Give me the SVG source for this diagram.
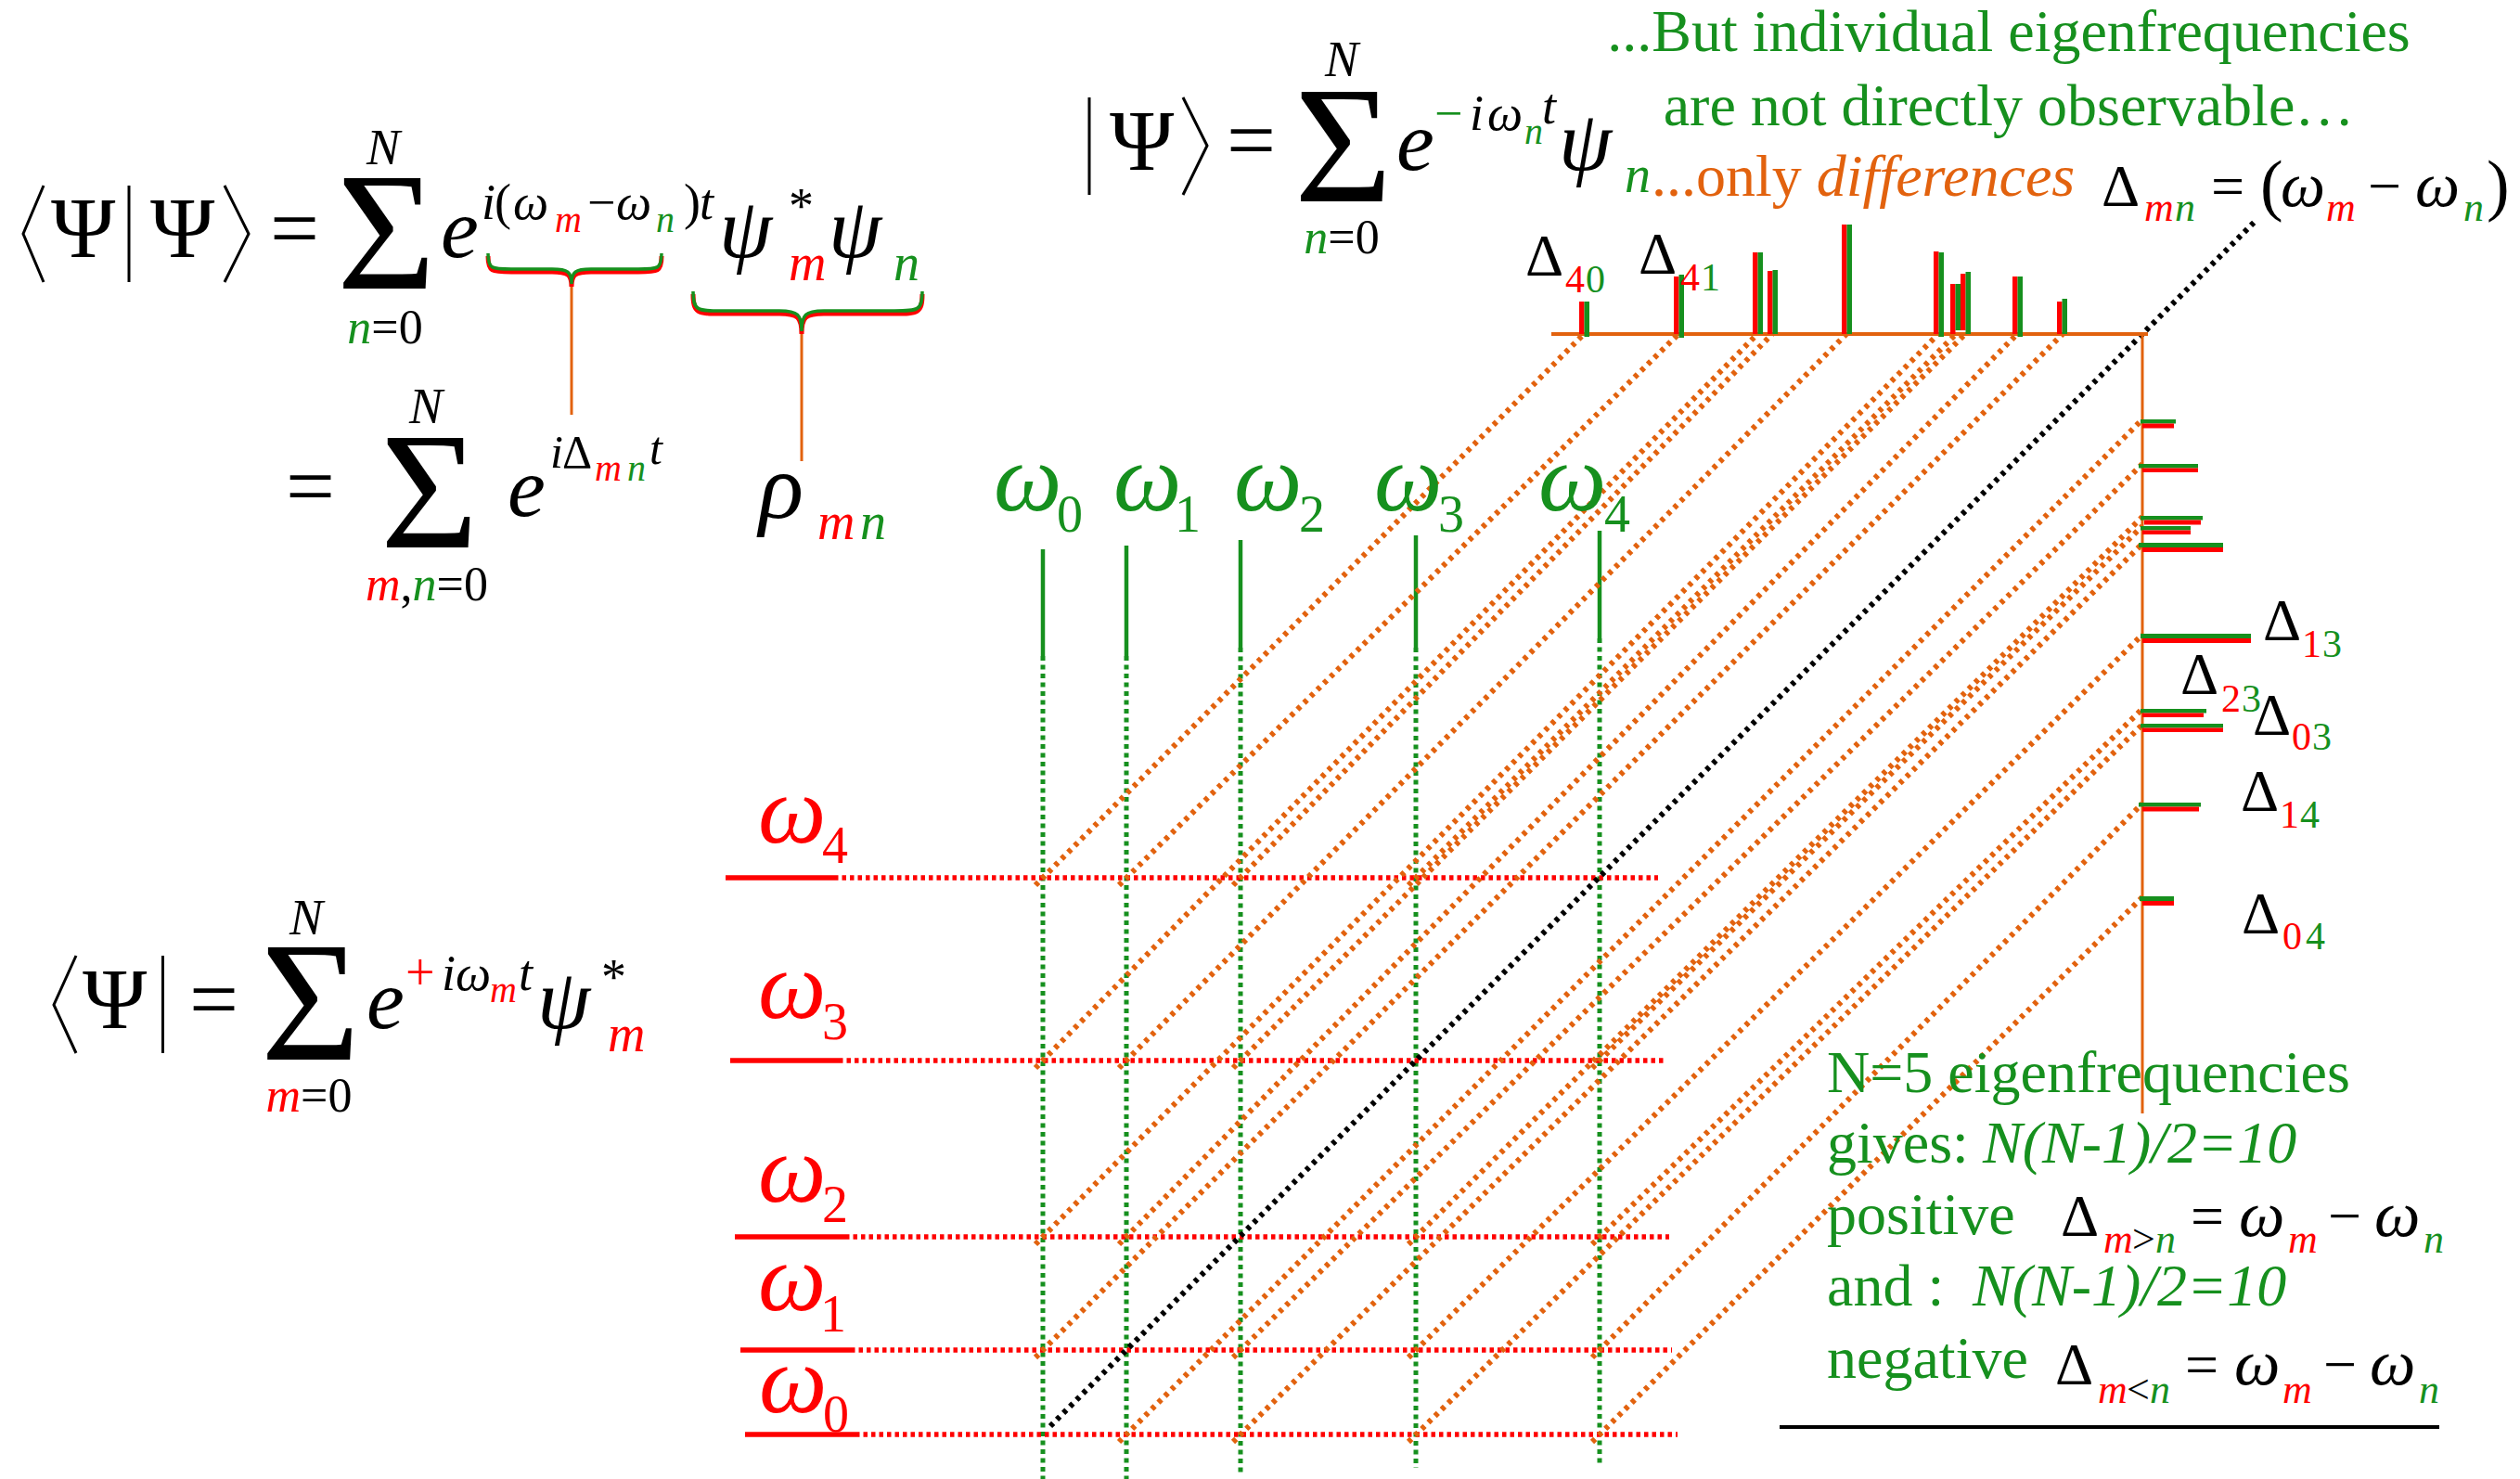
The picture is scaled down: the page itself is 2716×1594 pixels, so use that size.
<svg xmlns="http://www.w3.org/2000/svg" width="2716" height="1594" viewBox="0 0 2716 1594">
<style>
text{font-family:"Liberation Serif","Times New Roman",serif;fill:#000}
.i{font-style:italic}
.g{fill:#16901e}
.r{fill:#ff0000}
.o{fill:#e2620e}
.k{fill:#000}
.delim{fill:none;stroke:#000;stroke-width:3}
.lead{stroke:#e2620e;stroke-width:3;fill:none}
.od{stroke:#e2620e;stroke-width:6;stroke-dasharray:4.5 5.5;fill:none}
.bd{stroke:#000;stroke-width:6;stroke-dasharray:4.5 5.5;fill:none}
.rs{stroke:#ff0000;stroke-width:5.5}
.rd{stroke:#ff0000;stroke-width:5.5;stroke-dasharray:4.5 4}
.gs{stroke:#16901e;stroke-width:4.5}
.gd{stroke:#16901e;stroke-width:5;stroke-dasharray:5 4.5}
.axis{stroke:#e2620e;fill:none}
.braceR{fill:none;stroke:#ff0000;stroke-width:5}
.braceG{fill:none;stroke:#16901e;stroke-width:3.5}
.bar-r{fill:#ff0000}
.bar-g{fill:#16901e}
</style>

<!-- Connectors: grid lines, difference lines, axes -->
<g id="connectors">
  <g id="green-verticals">
    <line class="gs" x1="1124" y1="592" x2="1124" y2="707"/><line class="gd" x1="1124" y1="707" x2="1124" y2="1594"/>
    <line class="gs" x1="1214" y1="588" x2="1214" y2="707"/><line class="gd" x1="1214" y1="707" x2="1214" y2="1594"/>
    <line class="gs" x1="1337" y1="582" x2="1337" y2="698"/><line class="gd" x1="1337" y1="698" x2="1337" y2="1588"/>
    <line class="gs" x1="1526" y1="577" x2="1526" y2="698"/><line class="gd" x1="1526" y1="698" x2="1526" y2="1582"/>
    <line class="gs" x1="1724" y1="572" x2="1724" y2="688"/><line class="gd" x1="1724" y1="688" x2="1724" y2="1577"/>
  </g>
  <g id="red-horizontals">
    <line class="rs" x1="782" y1="946" x2="899" y2="946"/><line class="rd" x1="899" y1="946" x2="1787" y2="946"/>
    <line class="rs" x1="787" y1="1143" x2="904" y2="1143"/><line class="rd" x1="904" y1="1143" x2="1793" y2="1143"/>
    <line class="rs" x1="792" y1="1333" x2="911" y2="1333"/><line class="rd" x1="911" y1="1333" x2="1799" y2="1333"/>
    <line class="rs" x1="798" y1="1455" x2="917" y2="1455"/><line class="rd" x1="917" y1="1455" x2="1802" y2="1455"/>
    <line class="rs" x1="803" y1="1546" x2="922" y2="1546"/><line class="rd" x1="922" y1="1546" x2="1808" y2="1546"/>
  </g>
  <g id="difference-lines">
    <line class="od" x1="1116" y1="954" x2="1707" y2="360"/>
    <line class="od" x1="1206" y1="954" x2="1809" y2="360"/>
    <line class="od" x1="1116" y1="1151" x2="1894" y2="360"/>
    <line class="od" x1="1329" y1="954" x2="1910" y2="360"/>
    <line class="od" x1="1206" y1="1151" x2="1990" y2="360"/>
    <line class="od" x1="1116" y1="1341" x2="2089" y2="360"/>
    <line class="od" x1="1518" y1="954" x2="2108" y2="360"/>
    <line class="od" x1="1329" y1="1151" x2="2118" y2="360"/>
    <line class="od" x1="1206" y1="1341" x2="2174" y2="360"/>
    <line class="od" x1="1116" y1="1463" x2="2223" y2="360"/>
    <line class="od" x1="1206" y1="1554" x2="2309" y2="452"/>
    <line class="od" x1="1329" y1="1463" x2="2309" y2="500"/>
    <line class="od" x1="1518" y1="1341" x2="2309" y2="557"/>
    <line class="od" x1="1716" y1="1151" x2="2309" y2="567"/>
    <line class="od" x1="1329" y1="1554" x2="2309" y2="586"/>
    <line class="od" x1="1518" y1="1463" x2="2309" y2="684"/>
    <line class="od" x1="1716" y1="1341" x2="2309" y2="764"/>
    <line class="od" x1="1518" y1="1554" x2="2309" y2="781"/>
    <line class="od" x1="1716" y1="1463" x2="2309" y2="866"/>
    <line class="od" x1="1716" y1="1554" x2="2309" y2="967"/>
  </g>
  <line id="diagonal" class="bd" x1="1132" y1="1537" x2="2432" y2="237"/>
  <line class="axis" stroke-width="4" x1="1672" y1="360" x2="2315" y2="360"/>
  <line class="axis" stroke-width="3" x1="2309" y1="360" x2="2309" y2="1200"/>
  <line class="lead" x1="616" y1="307" x2="616" y2="447"/>
  <line class="lead" x1="864" y1="358" x2="864" y2="497"/>
</g>

<g id="top-spectrum">
  <rect class="bar-r" x="1702" y="325" width="5.5" height="35"/><rect class="bar-g" x="1707.5" y="325" width="5.5" height="38"/>
  <rect class="bar-r" x="1804" y="298" width="5.5" height="62"/><rect class="bar-g" x="1809.5" y="296" width="5.5" height="68"/>
  <rect class="bar-r" x="1889" y="272" width="5.5" height="88"/><rect class="bar-g" x="1894.5" y="272" width="5.5" height="88"/>
  <rect class="bar-r" x="1905" y="292" width="5.5" height="68"/><rect class="bar-g" x="1910.5" y="291" width="5.5" height="69"/>
  <rect class="bar-r" x="1985" y="242" width="5.5" height="118"/><rect class="bar-g" x="1990.5" y="242" width="5.5" height="118"/>
  <rect class="bar-r" x="2084" y="271" width="5.5" height="89"/><rect class="bar-g" x="2089.5" y="272" width="5.5" height="91"/>
  <rect class="bar-r" x="2102" y="306" width="5.5" height="54"/><rect class="bar-g" x="2107.5" y="306" width="5.5" height="50"/>
  <rect class="bar-r" x="2113" y="295" width="5.5" height="61"/><rect class="bar-g" x="2118.5" y="293" width="5.5" height="67"/>
  <rect class="bar-r" x="2169" y="298" width="5.5" height="62"/><rect class="bar-g" x="2174.5" y="298" width="5.5" height="65"/>
  <rect class="bar-r" x="2217" y="325" width="5.5" height="35"/><rect class="bar-g" x="2222.5" y="322" width="5.5" height="38"/>
</g>

<g id="right-spectrum">
  <rect class="bar-g" x="2307" y="452" width="38" height="4.5"/><rect class="bar-r" x="2309" y="456.5" width="34" height="5"/>
  <rect class="bar-g" x="2305" y="500" width="64" height="4.5"/><rect class="bar-r" x="2309" y="504.5" width="60" height="4.5"/>
  <rect class="bar-g" x="2307" y="556" width="67" height="4.5"/><rect class="bar-r" x="2311" y="560.5" width="61" height="5"/>
  <rect class="bar-g" x="2307" y="567" width="54" height="4.5"/><rect class="bar-r" x="2309" y="571.5" width="52" height="4.5"/>
  <rect class="bar-g" x="2305" y="585" width="91" height="5"/><rect class="bar-r" x="2309" y="590" width="87" height="5"/>
  <rect class="bar-g" x="2307" y="683" width="119" height="5"/><rect class="bar-r" x="2309" y="688" width="117" height="5"/>
  <rect class="bar-g" x="2307" y="764" width="71" height="4.5"/><rect class="bar-r" x="2309" y="768.5" width="66" height="4.5"/>
  <rect class="bar-g" x="2307" y="780" width="89" height="4.5"/><rect class="bar-r" x="2309" y="784.5" width="87" height="4.5"/>
  <rect class="bar-g" x="2305" y="865" width="67" height="4.5"/><rect class="bar-r" x="2309" y="869.5" width="61" height="5"/>
  <rect class="bar-g" x="2306" y="966" width="37" height="5"/><rect class="bar-r" x="2309" y="971" width="34" height="5"/>
</g>

<g id="eq-braket">
  <polyline class="delim" points="47,200 25,252 47,304"/>
  <text x="55" y="277" font-size="94">Ψ</text>
  <line x1="139" y1="200" x2="139" y2="304" stroke="#000" stroke-width="3"/>
  <text x="162" y="277" font-size="94">Ψ</text>
  <polyline class="delim" points="242,200 268,252 242,304"/>
  <text x="291" y="277" font-size="94">=</text>
  <text x="363" y="311" font-size="183">Σ</text>
  <text x="395" y="177" font-size="54" class="i">N</text>
  <text x="415" y="370" font-size="52" text-anchor="middle"><tspan class="i g">n</tspan>=0</text>
  <text x="475" y="277" font-size="92" class="i">e</text>
  <text y="236" font-size="54"><tspan x="519" class="i">i</tspan><tspan x="533">(</tspan><tspan x="553" class="i">ω</tspan><tspan x="598" y="250" font-size="40" class="i r">m</tspan><tspan x="633" y="236">−</tspan><tspan x="664" class="i">ω</tspan><tspan x="707" y="250" font-size="40" class="i g">n</tspan><tspan x="737" y="236">)</tspan><tspan x="754" class="i">t</tspan></text>
  <path class="braceR" d="M526,276 C526,293 530,293 551,293 L595,293 C612,293 616,296 616,309 C616,296 620,293 637,293 L688,293 C709,293 713,293 713,276"/>
  <path class="braceG" d="M526,273 C526,290 530,290 551,290 L595,290 C612,290 616,293 616,306 C616,293 620,290 637,290 L688,290 C709,290 713,290 713,273"/>
  <text x="775" y="277" font-size="92" class="i">ψ</text>
  <text x="850" y="240" font-size="54">*</text>
  <text x="850" y="302" font-size="56" class="i r">m</text>
  <text x="893" y="277" font-size="92" class="i">ψ</text>
  <text x="963" y="302" font-size="56" class="i g">n</text>
  <path class="braceR" d="M747,317 C747,338 752,338 777,338 L840,338 C860,338 864,342 864,360 C864,342 868,338 888,338 L964,338 C989,338 994,338 994,317"/>
  <path class="braceG" d="M747,314 C747,335 752,335 777,335 L840,335 C860,335 864,339 864,357 C864,339 868,335 888,335 L964,335 C989,335 994,335 994,314"/>
</g>

<g id="eq-rho">
  <text x="308" y="555" font-size="94">=</text>
  <text x="410" y="590" font-size="181">Σ</text>
  <text x="441" y="456" font-size="54" class="i">N</text>
  <text x="460" y="647" font-size="52" text-anchor="middle"><tspan class="i r">m</tspan>,<tspan class="i g">n</tspan>=0</text>
  <text x="547" y="556" font-size="92" class="i">e</text>
  <text y="504" font-size="50"><tspan x="593" class="i">i</tspan><tspan x="606">Δ</tspan><tspan x="641" y="518" font-size="40" class="i r">m</tspan><tspan x="676" y="518" font-size="40" class="i g">n</tspan><tspan x="700" y="500" class="i">t</tspan></text>
  <text x="818" y="558" font-size="100" class="i">ρ</text>
  <text y="581" font-size="56" class="i"><tspan x="881" class="r">m</tspan><tspan x="927" class="g">n</tspan></text>
</g>

<g id="eq-ket">
  <line x1="1174" y1="105" x2="1174" y2="210" stroke="#000" stroke-width="3"/>
  <text x="1196" y="183" font-size="94">Ψ</text>
  <polyline class="delim" points="1275,105 1301,157 1275,210"/>
  <text x="1322" y="182" font-size="94">=</text>
  <text x="1395" y="217" font-size="181">Σ</text>
  <text x="1428" y="82" font-size="54" class="i">N</text>
  <text x="1446" y="273" font-size="52" text-anchor="middle"><tspan class="i g">n</tspan>=0</text>
  <text x="1505" y="183" font-size="92" class="i">e</text>
  <text y="140" font-size="54"><tspan x="1546" class="g">−</tspan><tspan x="1584" class="i">i</tspan><tspan x="1603" class="i">ω</tspan><tspan x="1643" y="155" font-size="40" class="i g">n</tspan><tspan x="1662" y="133" class="i">t</tspan></text>
  <text x="1680" y="183" font-size="92" class="i">ψ</text>
  <text x="1751" y="207" font-size="56" class="i g">n</text>
</g>

<g id="headline">
  <text x="2165" y="55" font-size="64" class="g" text-anchor="middle">...But individual eigenfrequencies</text>
  <text x="2165" y="135" font-size="64" class="g" text-anchor="middle">are not directly observable…</text>
  <text x="1780" y="211" font-size="64" class="o">...only <tspan class="i">differences</tspan></text>
</g>

<g id="eq-delta-def">
  <text x="2265" y="222" font-size="64">Δ</text>
  <text y="238" font-size="44" class="i"><tspan x="2311" class="r">m</tspan><tspan x="2344" class="g">n</tspan></text>
  <text x="2383" y="222" font-size="64">=</text>
  <text x="2436" y="224" font-size="74">(</text>
  <text x="2458" y="222" font-size="68" class="i">ω</text>
  <text x="2507" y="238" font-size="44" class="i r">m</text>
  <text x="2552" y="222" font-size="64">−</text>
  <text x="2603" y="222" font-size="68" class="i">ω</text>
  <text x="2655" y="238" font-size="44" class="i g">n</text>
  <text x="2680" y="224" font-size="74">)</text>
</g>

<g id="delta-labels">
  <g id="lbl-d40"><text x="1644" y="297" font-size="64">Δ</text><text y="315" font-size="42"><tspan x="1687" class="r">4</tspan><tspan x="1709" class="g">0</tspan></text></g>
  <g id="lbl-d41"><text x="1766" y="295" font-size="64">Δ</text><text y="313" font-size="42"><tspan x="1811" class="r">4</tspan><tspan x="1833" class="g">1</tspan></text></g>
  <g id="lbl-d13"><text x="2439" y="690" font-size="64">Δ</text><text y="708" font-size="42"><tspan x="2481" class="r">1</tspan><tspan x="2503" class="g">3</tspan></text></g>
  <g id="lbl-d23"><text x="2350" y="748" font-size="64">Δ</text><text y="767" font-size="42"><tspan x="2394" class="r">2</tspan><tspan x="2416" class="g">3</tspan></text></g>
  <g id="lbl-d03"><text x="2428" y="792" font-size="64">Δ</text><text y="808" font-size="42"><tspan x="2470" class="r">0</tspan><tspan x="2492" class="g">3</tspan></text></g>
  <g id="lbl-d14"><text x="2415" y="874" font-size="64">Δ</text><text y="892" font-size="42"><tspan x="2457" class="r">1</tspan><tspan x="2479" class="g">4</tspan></text></g>
  <g id="lbl-d04"><text x="2416" y="1006" font-size="64">Δ</text><text y="1023" font-size="42"><tspan x="2460" class="r">0</tspan><tspan x="2485" class="g">4</tspan></text></g>
</g>

<g id="omega-n-labels">
  <g id="wn0"><text x="1071" y="550" font-size="104" class="i g">ω</text><text x="1139" y="573" font-size="56" class="g">0</text></g>
  <g id="wn1"><text x="1200" y="550" font-size="104" class="i g">ω</text><text x="1266" y="573" font-size="56" class="g">1</text></g>
  <g id="wn2"><text x="1330" y="550" font-size="104" class="i g">ω</text><text x="1400" y="573" font-size="56" class="g">2</text></g>
  <g id="wn3"><text x="1481" y="550" font-size="104" class="i g">ω</text><text x="1550" y="573" font-size="56" class="g">3</text></g>
  <g id="wn4"><text x="1658" y="550" font-size="104" class="i g">ω</text><text x="1729" y="573" font-size="56" class="g">4</text></g>
</g>

<g id="omega-m-labels">
  <g id="wm4"><text x="817" y="908" font-size="104" class="i r">ω</text><text x="886" y="930" font-size="56" class="r">4</text></g>
  <g id="wm3"><text x="817" y="1097" font-size="104" class="i r">ω</text><text x="886" y="1120" font-size="56" class="r">3</text></g>
  <g id="wm2"><text x="817" y="1295" font-size="104" class="i r">ω</text><text x="886" y="1317" font-size="56" class="r">2</text></g>
  <g id="wm1"><text x="817" y="1412" font-size="104" class="i r">ω</text><text x="884" y="1435" font-size="56" class="r">1</text></g>
  <g id="wm0"><text x="818" y="1522" font-size="104" class="i r">ω</text><text x="887" y="1543" font-size="56" class="r">0</text></g>
</g>

<g id="eq-bra">
  <polyline class="delim" points="82,1030 58,1083 82,1135"/>
  <text x="89" y="1108" font-size="94">Ψ</text>
  <line x1="175.5" y1="1030" x2="175.5" y2="1135" stroke="#000" stroke-width="3"/>
  <text x="204" y="1108" font-size="94">=</text>
  <text x="281" y="1142" font-size="184">Σ</text>
  <text x="312" y="1007" font-size="54" class="i">N</text>
  <text x="333" y="1198" font-size="52" text-anchor="middle"><tspan class="i r">m</tspan>=0</text>
  <text x="395" y="1108" font-size="92" class="i">e</text>
  <text y="1067" font-size="54"><tspan x="437" class="r" font-size="56">+</tspan><tspan x="476" class="i">i</tspan><tspan x="491" class="i">ω</tspan><tspan x="528" y="1080" font-size="40" class="i r">m</tspan><tspan x="559" y="1067" class="i">t</tspan></text>
  <text x="579" y="1108" font-size="92" class="i">ψ</text>
  <text x="648" y="1071" font-size="54">*</text>
  <text x="655" y="1133" font-size="56" class="i r">m</text>
</g>

<g id="summary">
  <text x="1969" y="1177" font-size="64" class="g">N=5 eigenfrequencies</text>
  <text x="1969" y="1253" font-size="64" class="g">gives: <tspan x="2137" class="i">N(N-1)/2=10</tspan></text>
  <text x="1969" y="1330" font-size="64" class="g">positive</text>
  <text x="1969" y="1407" font-size="64" class="g">and :<tspan x="2126" class="i">N(N-1)/2=10</tspan></text>
  <text x="1969" y="1485" font-size="64" class="g">negative</text>
  <g id="eq-positive">
    <text x="2221" y="1332" font-size="64">Δ</text>
    <text y="1350" font-size="44"><tspan x="2267" class="i r">m</tspan><tspan x="2298">&gt;</tspan><tspan x="2323" class="i g">n</tspan></text>
    <text x="2361" y="1332" font-size="64">=</text>
    <text x="2413" y="1332" font-size="70" class="i">ω</text>
    <text x="2466" y="1350" font-size="44" class="i r">m</text>
    <text x="2509" y="1332" font-size="64">−</text>
    <text x="2559" y="1332" font-size="70" class="i">ω</text>
    <text x="2612" y="1350" font-size="44" class="i g">n</text>
  </g>
  <g id="eq-negative">
    <text x="2215" y="1492" font-size="64">Δ</text>
    <text y="1512" font-size="44"><tspan x="2261" class="i r">m</tspan><tspan x="2292">&lt;</tspan><tspan x="2317" class="i g">n</tspan></text>
    <text x="2355" y="1492" font-size="64">=</text>
    <text x="2408" y="1492" font-size="70" class="i">ω</text>
    <text x="2460" y="1512" font-size="44" class="i r">m</text>
    <text x="2504" y="1492" font-size="64">−</text>
    <text x="2554" y="1492" font-size="70" class="i">ω</text>
    <text x="2607" y="1512" font-size="44" class="i g">n</text>
  </g>
  <line x1="1918" y1="1538" x2="2629" y2="1538" stroke="#000" stroke-width="4"/>
</g>
</svg>
